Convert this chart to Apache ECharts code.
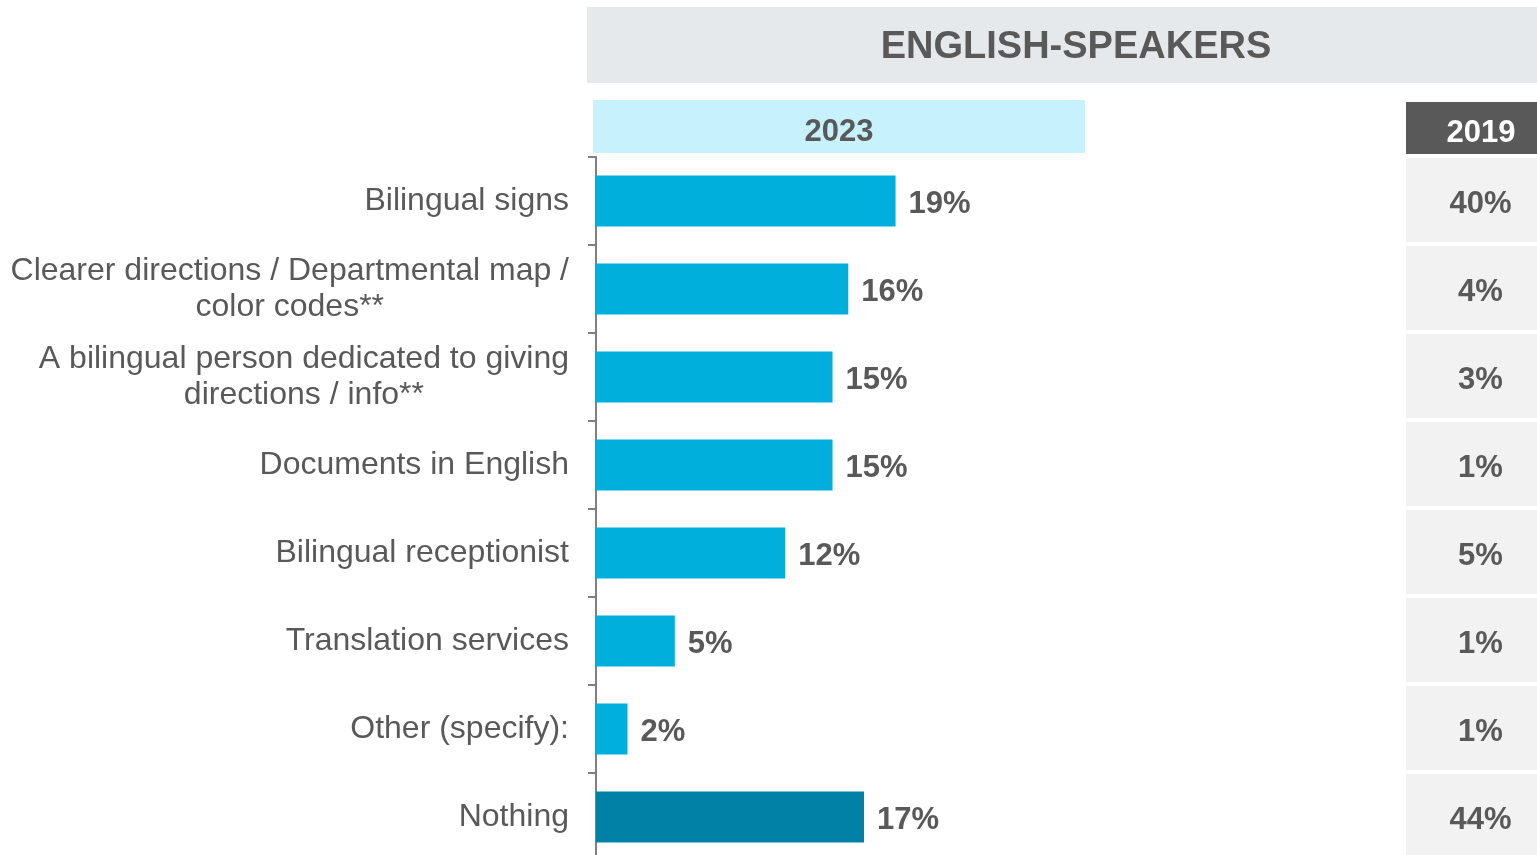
<!DOCTYPE html>
<html>
<head>
<meta charset="utf-8">
<script src="https://cdn.jsdelivr.net/npm/echarts@6/dist/echarts.min.js"></script>
<style>
  html, body { margin: 0; padding: 0; background: #ffffff; }
  #chart { width: 1537px; height: 855px; }
</style>
</head>
<body>
<div id="chart"></div>
<script>
// Suggested improvements, English-speaking respondents
const categories = [
  'Bilingual signs',
  'Clearer directions / Departmental map /\ncolor codes**',
  'A bilingual person dedicated to giving\ndirections / info**',
  'Documents in English',
  'Bilingual receptionist',
  'Translation services',
  'Other (specify):',
  'Nothing'
];
const values2023 = [19, 16, 15, 15, 12, 5, 2, 17];
const values2019 = [40, 4, 3, 1, 5, 1, 1, 44];
const groupTitle = 'ENGLISH-SPEAKERS';
const yearLabels = ['2023', '2019'];

const FONT = '"Liberation Sans", Arial, sans-serif';
const TEXT_GREY = '#595959';
const BAR_BLUE = '#00AFDB';
const BAR_DARK = '#0081A5';

const chart = echarts.init(document.getElementById('chart'), null, { renderer: 'canvas' });

// the plot runs a little past the bottom edge of the page
const gridTop = 157;
const gridHeight = 704;

chart.setOption({
  animation: false,
  backgroundColor: '#ffffff',
  grid: [
    { left: 596, top: gridTop, width: 473, height: gridHeight, outerBoundsMode: 'none', containLabel: false },
    { left: 1406, top: gridTop, width: 149, height: gridHeight, outerBoundsMode: 'none', containLabel: false }
  ],
  xAxis: [
    { gridIndex: 0, type: 'value', min: 0, max: 30, show: false },
    { gridIndex: 1, type: 'value', min: 0, max: 1, show: false }
  ],
  yAxis: [
    {
      gridIndex: 0,
      type: 'category',
      data: categories,
      inverse: true,
      axisLine: { show: true, lineStyle: { color: '#808080', width: 2 } },
      axisTick: { show: true, length: 8, lineStyle: { color: '#808080', width: 2 } },
      axisLabel: {
        margin: 27,
        formatter: v => v.split('\n').map(line => '{c|' + line + '}').join('\n'),
        rich: {
          c: { align: 'center', fontSize: 32, lineHeight: 36, color: TEXT_GREY, fontFamily: FONT }
        }
      },
      splitLine: { show: false }
    },
    {
      gridIndex: 1,
      type: 'category',
      data: categories,
      inverse: true,
      show: false
    }
  ],
  graphic: [
    { type: 'rect', shape: { x: 587, y: 7, width: 1000, height: 76 }, style: { fill: '#E6E9EC' }, silent: true },
    { type: 'text', style: { text: groupTitle, x: 1076, y: 48, align: 'center', verticalAlign: 'middle',
        fontSize: 38, fontWeight: 'bold', fontFamily: FONT, fill: TEXT_GREY }, silent: true },
    { type: 'rect', shape: { x: 593, y: 100, width: 492, height: 53 }, style: { fill: '#C6F1FD' }, silent: true },
    { type: 'text', style: { text: yearLabels[0], x: 839, y: 132, align: 'center', verticalAlign: 'middle',
        fontSize: 31, fontWeight: 'bold', fontFamily: FONT, fill: TEXT_GREY }, silent: true },
    { type: 'rect', shape: { x: 1406, y: 102, width: 150, height: 52 }, style: { fill: '#595959' }, silent: true },
    { type: 'text', style: { text: yearLabels[1], x: 1481, y: 133, align: 'center', verticalAlign: 'middle',
        fontSize: 31, fontWeight: 'bold', fontFamily: FONT, fill: '#ffffff' }, silent: true }
  ],
  series: [
    {
      name: yearLabels[0],
      type: 'bar',
      xAxisIndex: 0,
      yAxisIndex: 0,
      data: values2023,
      barWidth: 51,
      itemStyle: {
        color: p => (p.dataIndex === categories.length - 1 ? BAR_DARK : BAR_BLUE)
      },
      label: {
        show: true,
        position: 'right',
        distance: 13,
        offset: [0, 3],
        formatter: '{c}%',
        fontSize: 31,
        fontWeight: 'bold',
        fontFamily: FONT,
        color: TEXT_GREY
      }
    },
    {
      name: yearLabels[1],
      type: 'custom',
      xAxisIndex: 1,
      yAxisIndex: 1,
      encode: { y: 0, x: 1 },
      data: values2019.map((v, i) => [i, v]),
      renderItem: function (params, api) {
        const cat = api.value(0);
        const left = api.coord([0, cat]);
        const right = api.coord([1, cat]);
        const band = api.size([0, 1])[1];
        const top = left[1] - band / 2 + 1;
        return {
          type: 'group',
          children: [
            {
              type: 'rect',
              shape: { x: left[0], y: top, width: right[0] - left[0], height: band - 4 },
              style: { fill: '#F2F2F2' }
            },
            {
              type: 'text',
              style: {
                text: api.value(1) + '%',
                x: (left[0] + right[0]) / 2,
                y: left[1] + 3,
                align: 'center',
                verticalAlign: 'middle',
                fontSize: 31,
                fontWeight: 'bold',
                fontFamily: FONT,
                fill: TEXT_GREY
              }
            }
          ]
        };
      }
    }
  ]
});
</script>
</body>
</html>
